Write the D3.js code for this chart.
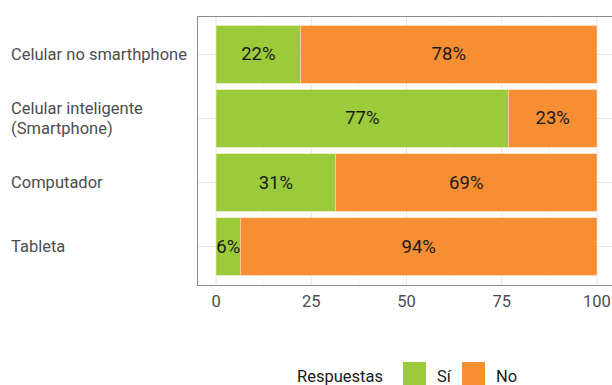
<!DOCTYPE html>
<html><head><meta charset="utf-8">
<script src="https://cdn.jsdelivr.net/npm/d3@7"></script>
<style>body{margin:0;background:#fff}svg{display:block;font-family:Roboto,"Liberation Sans",sans-serif}</style>
</head><body><svg id="c" width="612" height="385"></svg>
<script>
const categories = ["Celular no smarthphone", "Celular inteligente\n(Smartphone)", "Computador", "Tableta"];
const si = [22.2, 76.8, 31.4, 6.4];
const no = [77.8, 23.2, 68.6, 93.6];
const seriesNames = ["Sí", "No"];
const colors = ["#9BCB3B", "#F68E34"];
const xTicks = [0, 25, 50, 75, 100];
const legendTitle = "Respuestas";

const svg = d3.select("#c");
const panel = {left: 197, top: 16, right: 616, bottom: 285};
const x = d3.scaleLinear().domain([-5, 105]).range([panel.left, panel.right]);
const y = d3.scaleBand().domain(categories).range([panel.top, panel.bottom]).paddingInner(0.1).paddingOuter(0.15);

const g = svg.append("g");
const minor = d3.range(12.5, 100, 25);
g.selectAll(".mg").data(minor).join("line")
  .attr("x1", d => x(d)).attr("x2", d => x(d)).attr("y1", panel.top).attr("y2", panel.bottom)
  .attr("stroke", "#f0f0f0").attr("stroke-width", 0.6);
g.selectAll(".Mg").data(xTicks).join("line")
  .attr("x1", d => x(d)).attr("x2", d => x(d)).attr("y1", panel.top).attr("y2", panel.bottom)
  .attr("stroke", "#e6e6e6").attr("stroke-width", 1);
g.selectAll(".hg").data(categories).join("line")
  .attr("x1", panel.left).attr("x2", panel.right)
  .attr("y1", d => y(d) + y.bandwidth()/2).attr("y2", d => y(d) + y.bandwidth()/2)
  .attr("stroke", "#e6e6e6").attr("stroke-width", 1);

const rows = categories.map((c, i) => ({c, vals: [si[i], no[i]]}));
rows.forEach(r => {
  let start = 0;
  r.vals.forEach((v, k) => {
    g.append("rect").attr("x", x(start)).attr("y", y(r.c))
      .attr("width", x(start + v) - x(start)).attr("height", y.bandwidth())
      .attr("fill", colors[k]).attr("stroke", "#fbe3c9").attr("stroke-width", 0.4);
    g.append("text").attr("x", x(start + v/2)).attr("y", y(r.c) + y.bandwidth()/2)
      .attr("text-anchor", "middle").attr("dominant-baseline", "central")
      .attr("font-size", 18.5).attr("fill", "#1a1a1a").text(Math.round(v) + "%");
    start += v;
  });
});

svg.append("rect").attr("x", panel.left + 0.5).attr("y", panel.top + 0.5)
  .attr("width", panel.right - panel.left).attr("height", panel.bottom - panel.top)
  .attr("fill", "none").attr("stroke", "#8c8c8c").attr("stroke-width", 1);

svg.selectAll(".xt").data(xTicks).join("text")
  .attr("x", d => x(d)).attr("y", 301).attr("text-anchor", "middle").attr("dominant-baseline", "central")
  .attr("font-size", 16.5).attr("fill", "#4d4d4d").text(d => d);

categories.forEach(c => {
  const lines = c.split("\n");
  const cy = y(c) + y.bandwidth()/2;
  lines.forEach((l, j) => {
    svg.append("text").attr("x", 11).attr("y", cy + (j - (lines.length-1)/2) * 20)
      .attr("dominant-baseline", "central").attr("font-size", 16.5).attr("fill", "#4d4d4d").text(l);
  });
});

const lg = svg.append("g");
lg.append("text").attr("x", 297).attr("y", 376).attr("dominant-baseline", "central")
  .attr("font-size", 16.5).attr("fill", "#1a1a1a").text(legendTitle);
const keyX = [403, 462];
seriesNames.forEach((s, i) => {
  lg.append("rect").attr("x", keyX[i]).attr("y", 362).attr("width", 23).attr("height", 23).attr("fill", colors[i]);
  lg.append("text").attr("x", keyX[i] + 34).attr("y", 376).attr("dominant-baseline", "central")
    .attr("font-size", 16.5).attr("fill", "#1a1a1a").text(s);
});
</script></body></html>
